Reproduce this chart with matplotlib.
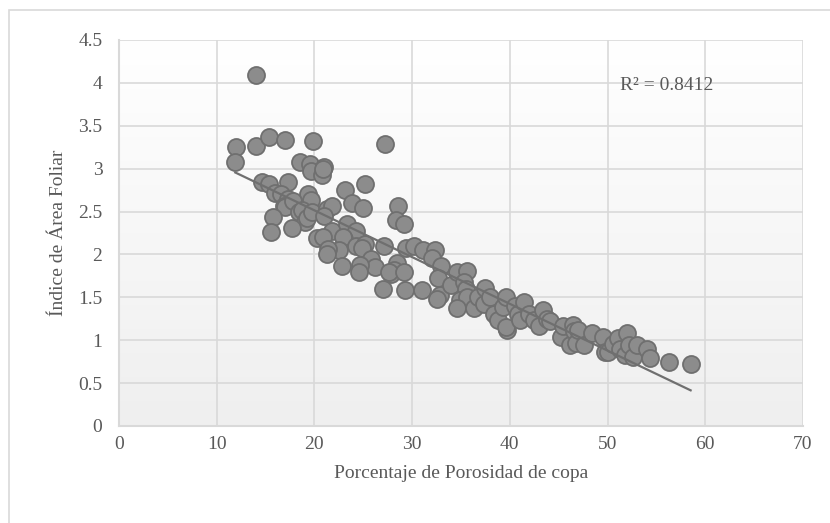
import matplotlib

matplotlib.use("Agg")
import matplotlib.pyplot as plt
from matplotlib.colors import LinearSegmentedColormap
from matplotlib.patches import Rectangle
import numpy as np

# Canopy porosity (%) vs leaf area index
porosity = [
    14.0, 12.0, 11.9, 14.0, 15.3, 17.0, 19.9, 27.2,
    18.5, 19.5, 19.7, 20.8, 21.0, 20.9,
    14.6, 15.3, 17.3, 25.2, 23.1,
    16.0, 16.6, 17.3, 19.3, 19.6,
    16.9, 17.0, 17.8, 18.4, 18.7, 19.0, 19.2, 19.8,
    21.3, 21.8, 21.0, 23.8, 25.0, 28.6, 28.3, 29.2,
    15.8, 15.6, 17.7, 21.8, 23.3, 24.3, 20.3, 20.9,
    23.0, 22.9, 24.3, 25.2, 27.1, 24.9, 22.5, 21.4, 21.3,
    29.4, 30.2, 31.1, 32.3, 32.0, 33.0,
    25.8, 26.2, 24.7, 24.6, 22.8, 28.4, 28.1, 27.8, 27.6, 29.2,
    27.0, 29.3, 31.0, 32.6, 32.8, 32.5,
    34.0, 34.6, 35.6, 35.3, 35.5, 34.9, 35.6, 34.6, 36.3, 36.7,
    37.5, 37.4, 38.0, 38.4, 38.8, 39.3, 39.6, 39.7, 39.6,
    40.5, 40.8, 41.0, 41.4, 42.0, 42.5, 43.0, 43.4, 43.8, 44.1,
    45.2, 45.4, 46.2, 46.5, 46.6, 46.8, 47.0, 47.6, 48.4,
    49.5, 49.7, 50.0, 50.6, 51.1, 51.3, 51.8, 52.0, 52.2, 52.6,
    53.0, 54.0, 54.3, 56.3, 58.5,
]
iaf = [
    4.09, 3.25, 3.08, 3.26, 3.37, 3.33, 3.32, 3.29,
    3.08, 3.05, 2.97, 2.93, 3.02, 3.00,
    2.85, 2.82, 2.85, 2.82, 2.75,
    2.72, 2.70, 2.65, 2.71, 2.64,
    2.57, 2.55, 2.62, 2.50, 2.52, 2.38, 2.42, 2.50,
    2.53, 2.57, 2.45, 2.60, 2.54, 2.56, 2.40, 2.35,
    2.44, 2.26, 2.31, 2.27, 2.35, 2.27, 2.19, 2.20,
    2.18, 2.20, 2.10, 2.12, 2.10, 2.07, 2.05, 2.06, 2.00,
    2.07, 2.10, 2.05, 2.05, 1.96, 1.87,
    1.95, 1.85, 1.88, 1.80, 1.87, 1.90, 1.82, 1.77, 1.80, 1.79,
    1.60, 1.59, 1.58, 1.73, 1.53, 1.48,
    1.64, 1.79, 1.81, 1.68, 1.60, 1.47, 1.50, 1.37, 1.37, 1.50,
    1.61, 1.42, 1.50, 1.30, 1.23, 1.39, 1.50, 1.12, 1.15,
    1.40, 1.30, 1.24, 1.45, 1.30, 1.24, 1.16, 1.35, 1.25, 1.22,
    1.04, 1.17, 0.95, 1.18, 1.11, 0.97, 1.12, 0.95, 1.09,
    1.04, 0.86, 0.86, 0.96, 1.03, 0.90, 0.83, 1.09, 0.95, 0.80,
    0.94, 0.90, 0.79, 0.75, 0.72,
]
# Linear trend as drawn in the reference
trend_slope = -0.0545
trend_intercept = 3.604
r2_label = "R² = 0.8412"

x_ticks = [0, 10, 20, 30, 40, 50, 60, 70]
y_ticks = [0, 0.5, 1, 1.5, 2, 2.5, 3, 3.5, 4, 4.5]
y_tick_labels = ["0", "0.5", "1", "1.5", "2", "2.5", "3", "3.5", "4", "4.5"]

plt.rcParams["font.family"] = ["Liberation Serif", "DejaVu Serif"]
text_color = "#595959"

fig = plt.figure(figsize=(8.3, 5.23), dpi=100)
fig.patches.append(Rectangle((9 / 830, -0.1), 1.0, 1 - 10 / 523 + 0.1,
                             transform=fig.transFigure, fill=False,
                             edgecolor="#d9d9d9", lw=1.2))
ax = fig.add_axes([119 / 830, 97 / 523, 684 / 830, 386 / 523])

# vertical gradient in the plot area, white at top to light grey at bottom
shade = LinearSegmentedColormap.from_list("shade", ["#efefef", "#ffffff"])
grad = np.linspace(1.0, 0.0, 256).reshape(-1, 1)
ax.imshow(grad, extent=(0, 70, 0, 4.5), aspect="auto", cmap=shade,
          vmin=0, vmax=1, zorder=0, interpolation="bicubic")

ax.set_xlim(0, 70)
ax.set_ylim(0, 4.5)
ax.set_xticks(x_ticks)
ax.set_yticks(y_ticks)
ax.set_yticklabels(y_tick_labels)
ax.grid(True, color="#d9d9d9", lw=1.2, zorder=1)
ax.set_axisbelow(True)
ax.tick_params(length=0, labelsize=14, colors=text_color)
ax.tick_params(axis="y", pad=12)
ax.tick_params(axis="x", pad=7)
for side in ("top", "right"):
    ax.spines[side].set_visible(False)
for side in ("left", "bottom"):
    ax.spines[side].set_color("#d9d9d9")
    ax.spines[side].set_linewidth(1.5)

ax.scatter(porosity, iaf, s=150, facecolor="#8c8c8c", edgecolor="#6f6f6f",
           linewidth=1.3, zorder=3)

xs = np.array([min(porosity), max(porosity)])
ax.plot(xs, trend_intercept + trend_slope * xs, color="#6f6f6f", lw=1.6,
        zorder=4)

ax.text(51.3, 3.97, r2_label, fontsize=14, color=text_color, va="center",
        zorder=5)

ax.set_xlabel("Porcentaje de Porosidad de copa", fontsize=14,
              color=text_color, labelpad=9)
ax.set_ylabel("Índice de Área Foliar", fontsize=14, color=text_color,
              labelpad=8)

fig.savefig("out.png", dpi=100)
